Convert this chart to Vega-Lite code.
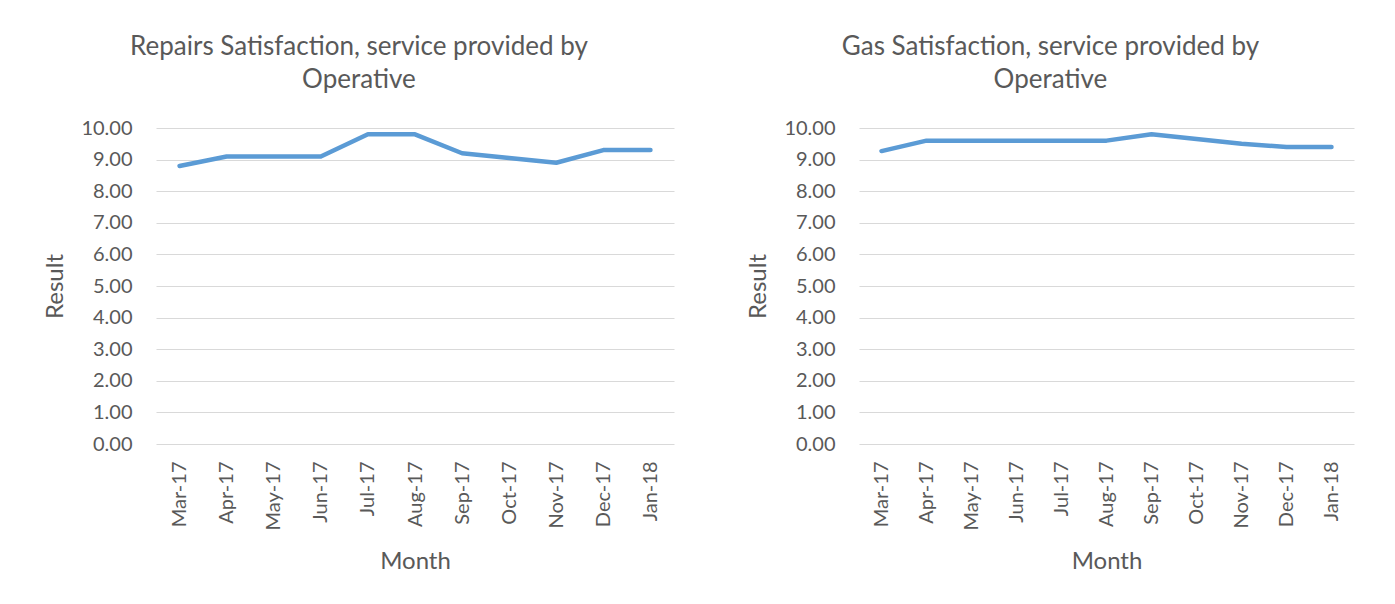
{
  "$schema": "https://vega.github.io/schema/vega-lite/v6.json",
  "background": "white",
  "padding": {"left": 43, "top": 34, "right": 10, "bottom": 10},
  "spacing": 72,
  "datasets": {
    "repairs": [
      {"Month": "Mar-17", "Result": 8.8},
      {"Month": "Apr-17", "Result": 9.1},
      {"Month": "May-17", "Result": 9.1},
      {"Month": "Jun-17", "Result": 9.1},
      {"Month": "Jul-17", "Result": 9.8},
      {"Month": "Aug-17", "Result": 9.8},
      {"Month": "Sep-17", "Result": 9.2},
      {"Month": "Oct-17", "Result": 9.05},
      {"Month": "Nov-17", "Result": 8.9},
      {"Month": "Dec-17", "Result": 9.3},
      {"Month": "Jan-18", "Result": 9.3}
    ],
    "gas": [
      {"Month": "Mar-17", "Result": 9.27},
      {"Month": "Apr-17", "Result": 9.6},
      {"Month": "May-17", "Result": 9.6},
      {"Month": "Jun-17", "Result": 9.6},
      {"Month": "Jul-17", "Result": 9.6},
      {"Month": "Aug-17", "Result": 9.6},
      {"Month": "Sep-17", "Result": 9.8},
      {"Month": "Oct-17", "Result": 9.65},
      {"Month": "Nov-17", "Result": 9.5},
      {"Month": "Dec-17", "Result": 9.4},
      {"Month": "Jan-18", "Result": 9.4}
    ]
  },
  "config": {
    "font": "Lato",
    "view": {"stroke": null},
    "title": {"fontSize": 26, "fontWeight": "normal", "color": "#595959", "lineHeight": 33, "offset": 25, "font": "Lato", "frame": "bounds", "anchor": "middle"},
    "axis": {
      "labelColor": "#595959",
      "titleColor": "#595959",
      "labelFontSize": 20,
      "titleFontSize": 24,
      "titleFontWeight": "normal",
      "labelFont": "Lato",
      "titleFont": "Lato",
      "ticks": false,
      "labelOverlap": false,
      "gridColor": "#D9D9D9",
      "domainColor": "#D9D9D9"
    }
  },
  "hconcat": [
    {
      "width": 518,
      "height": 316,
      "title": {"text": ["Repairs Satisfaction, service provided by", "Operative"]},
      "data": {"name": "repairs"},
      "mark": {"type": "line", "color": "#5B9BD5", "strokeWidth": 4.5, "strokeCap": "round", "strokeJoin": "round"},
      "encoding": {
        "x": {"field": "Month", "type": "ordinal", "sort": null,
              "scale": {"type": "point", "padding": 0.5},
              "axis": {"labelAngle": -90, "labelPadding": 17, "titlePadding": 20, "grid": false, "domain": false}},
        "y": {"field": "Result", "type": "quantitative",
              "scale": {"domain": [0, 10], "nice": false},
              "axis": {"format": ".2f", "values": [0,1,2,3,4,5,6,7,8,9,10], "domain": false, "labelPadding": 24, "titlePadding": 13}}
      }
    },
    {
      "width": 495,
      "height": 316,
      "title": {"text": ["Gas Satisfaction, service provided by", "Operative"]},
      "data": {"name": "gas"},
      "mark": {"type": "line", "color": "#5B9BD5", "strokeWidth": 4.5, "strokeCap": "round", "strokeJoin": "round"},
      "encoding": {
        "x": {"field": "Month", "type": "ordinal", "sort": null,
              "scale": {"type": "point", "padding": 0.5},
              "axis": {"labelAngle": -90, "labelPadding": 17, "titlePadding": 20, "grid": false, "domain": false}},
        "y": {"field": "Result", "type": "quantitative",
              "scale": {"domain": [0, 10], "nice": false},
              "axis": {"format": ".2f", "values": [0,1,2,3,4,5,6,7,8,9,10], "domain": false, "labelPadding": 24, "titlePadding": 13}}
      }
    }
  ]
}
